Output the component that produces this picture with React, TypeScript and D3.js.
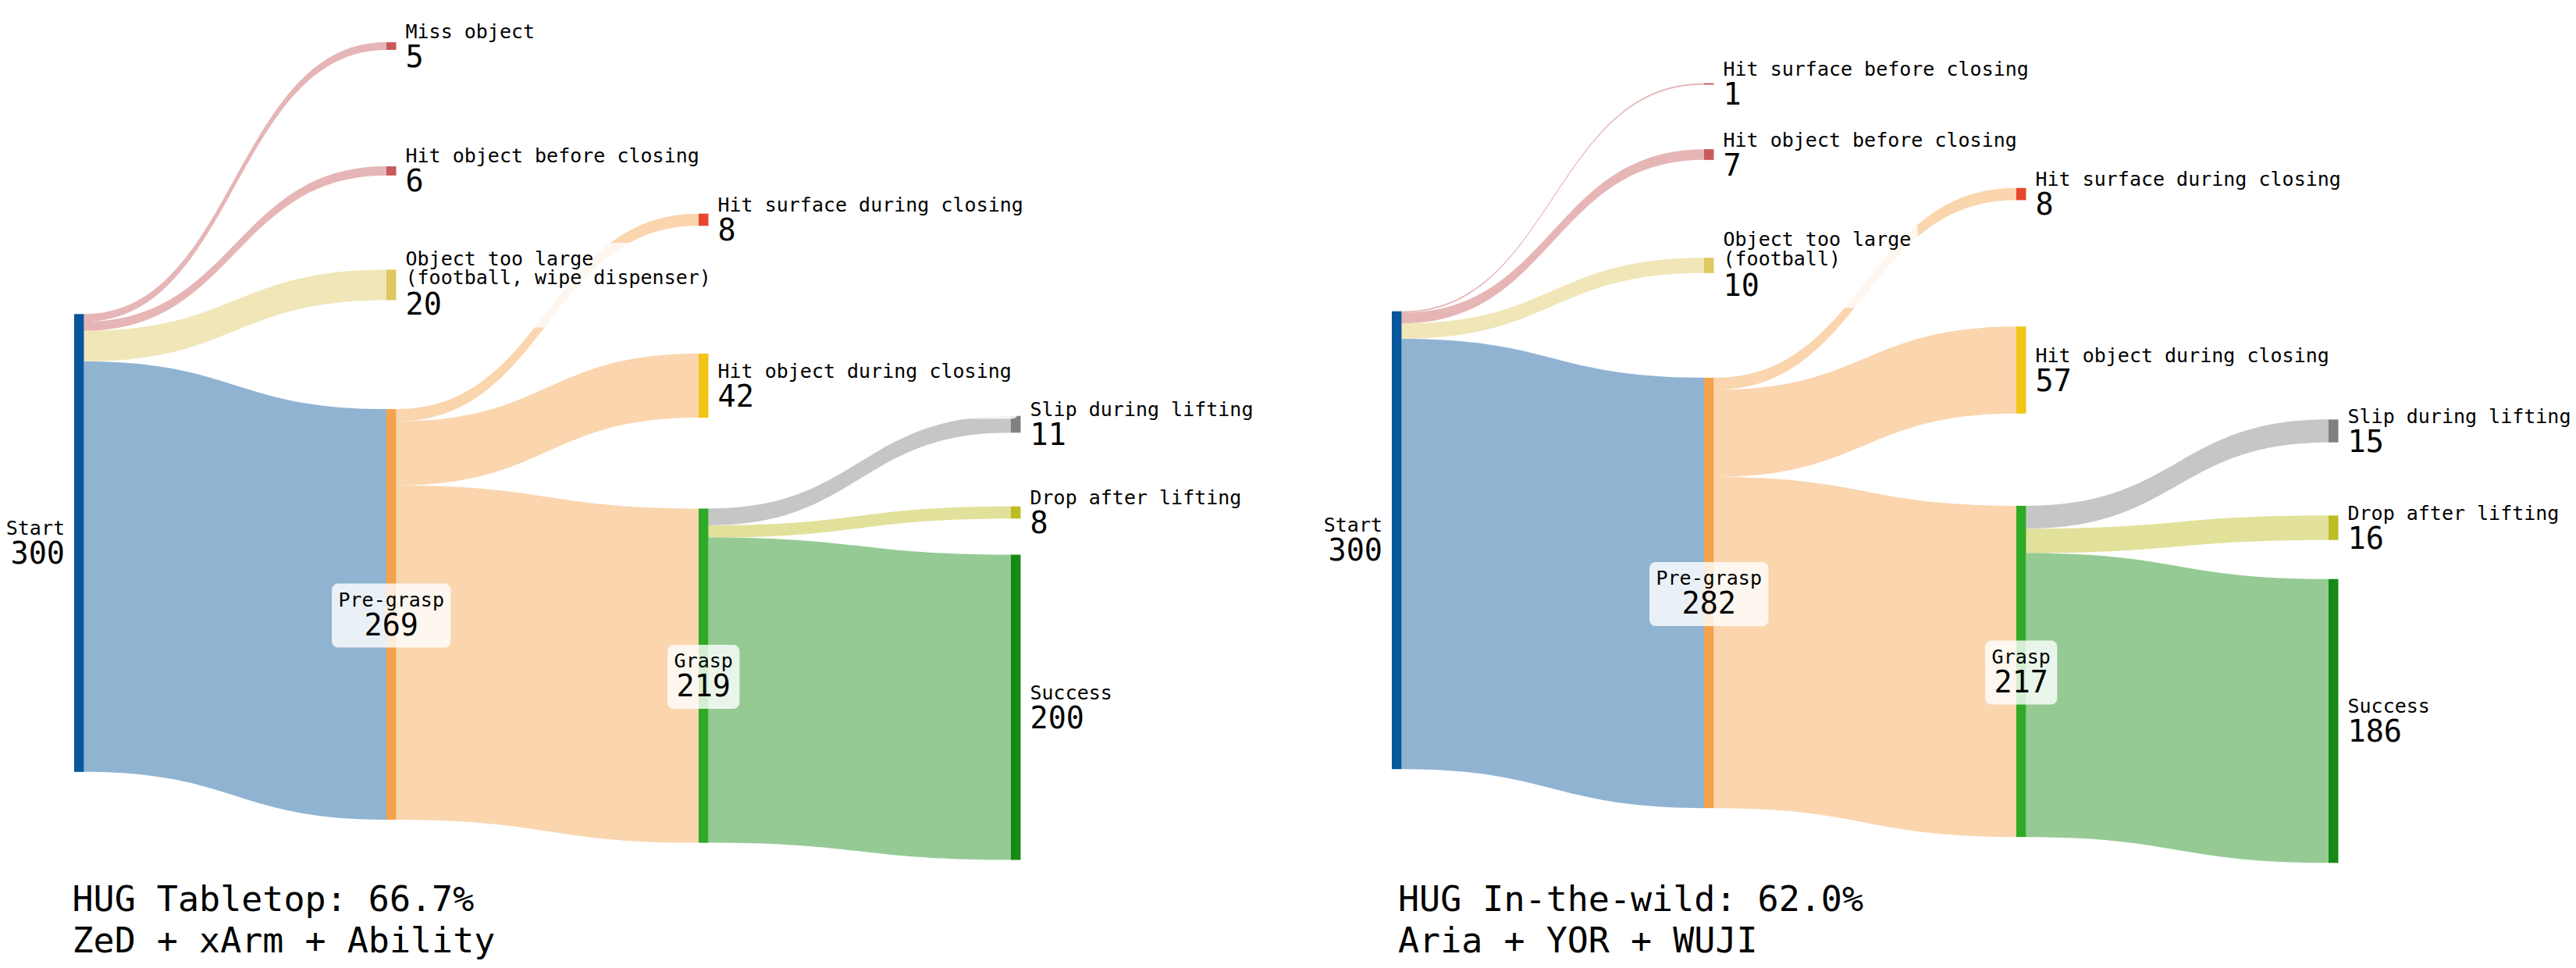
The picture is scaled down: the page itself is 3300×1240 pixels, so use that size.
import React from "react";
import * as d3 from "d3";

const width = 3300;
const height = 1240;
const nodeWidth = 12.5;
const linkOpacity = 0.45;
const font = "'DejaVu Sans Mono', monospace";
const nameSize = 25;
const valueSize = 38.5;
const charW = 0.602; // DejaVu Sans Mono advance per em

// shared structure of both diagrams
const nodeColumn = [0, 1, 1, 1, 1, 2, 2, 2, 3, 3, 3];
const nodeColors = [
  "#08569b", "#c85a5a", "#c85a5a", "#dec862", "#f4a24c",
  "#e6472e", "#f2c416", "#2eaa26", "#808080", "#bcbd22", "#158a15",
];
const labelMode = [
  "left", "right", "right", "right", "center",
  "right", "right", "center", "right", "right", "right",
];
const linkSource = [0, 0, 0, 0, 4, 4, 4, 7, 7, 7];
const linkTarget = [1, 2, 3, 4, 5, 6, 7, 8, 9, 10];
const linkColorNode = [1, 2, 3, 0, 4, 4, 4, 8, 9, 10];

// HUG Tabletop
const tabletopNames = [
  "Start", "Miss object", "Hit object before closing",
  "Object too large\n(football, wipe dispenser)", "Pre-grasp",
  "Hit surface during closing", "Hit object during closing", "Grasp",
  "Slip during lifting", "Drop after lifting", "Success",
];
const tabletopValues = [5, 6, 20, 269, 8, 42, 219, 11, 8, 200];
const tabletopNodeY = [
  0.607, 0.0176, 0.1657, 0.3009, 0.6917, 0.2236, 0.4204, 0.7644, 0.4662, 0.5708, 0.8019,
];
const tabletopTitle = ["HUG Tabletop: 66.7%", "ZeD + xArm + Ability"];

// HUG In-the-wild
const wildNames = [
  "Start", "Hit surface before closing", "Hit object before closing",
  "Object too large\n(football)", "Pre-grasp",
  "Hit surface during closing", "Hit object during closing", "Grasp",
  "Slip during lifting", "Drop after lifting", "Success",
];
const wildValues = [1, 7, 10, 282, 8, 57, 217, 15, 16, 186];
const wildNodeY = [
  0.6037, 0.0625, 0.1463, 0.2778, 0.6662, 0.1931, 0.4019, 0.7593, 0.4741, 0.5889, 0.8181,
];
const wildTitle = ["HUG In-the-wild: 62.0%", "Aria + YOR + WUJI"];

const panels = [
  { names: tabletopNames, values: tabletopValues, nodeY: tabletopNodeY, title: tabletopTitle, x0: 95, titleX: 92.5 },
  { names: wildNames, values: wildValues, nodeY: wildNodeY, title: wildTitle, x0: 1783, titleX: 1791 },
];

const yPos = d3.scaleLinear().domain([0, 1]).range([40, 1120]);
const thick = d3.scaleLinear().domain([0, 300]).range([0, 586.5]);

function bandPath(x0, sy0, sy1, x1, ty0, ty1) {
  const xm = (x0 + x1) / 2;
  const p = d3.path();
  p.moveTo(x0, sy0);
  p.bezierCurveTo(xm, sy0, xm, ty0, x1, ty0);
  p.lineTo(x1, ty1);
  p.bezierCurveTo(xm, ty1, xm, sy1, x0, sy1);
  p.closePath();
  return p.toString();
}

function Sankey({ panel }) {
  const xCol = d3.scaleLinear().domain([0, 3]).range([panel.x0, panel.x0 + 1200]);
  const n = panel.names.length;
  const inSum = new Array(n).fill(0);
  const outSum = new Array(n).fill(0);
  panel.values.forEach((v, i) => {
    outSum[linkSource[i]] += v;
    inSum[linkTarget[i]] += v;
  });
  const nodes = panel.names.map((name, i) => {
    const value = Math.max(inSum[i], outSum[i]);
    const h = thick(value);
    const cy = yPos(panel.nodeY[i]);
    const x = xCol(nodeColumn[i]);
    return { name, value, x, y0: cy - h / 2, y1: cy + h / 2, cy, h };
  });
  const outOff = nodes.map((d) => d.y0);
  const inOff = nodes.map((d) => d.y0);
  const links = panel.values.map((v, i) => {
    const s = nodes[linkSource[i]];
    const t = nodes[linkTarget[i]];
    const h = thick(v);
    const sy0 = outOff[linkSource[i]];
    const ty0 = inOff[linkTarget[i]];
    outOff[linkSource[i]] += h;
    inOff[linkTarget[i]] += h;
    return {
      d: bandPath(s.x + nodeWidth, sy0, sy0 + h, t.x, ty0, ty0 + h),
      color: nodeColors[linkColorNode[i]],
    };
  });

  return (
    <g>
      {links.map((l, i) => (
        <path key={i} d={l.d} fill={l.color} fillOpacity={linkOpacity} />
      ))}
      {nodes.map((d, i) => (
        <rect key={i} x={d.x} y={d.y0} width={nodeWidth} height={Math.max(d.h, 1)} fill={nodeColors[i]} />
      ))}
      {nodes.map((d, i) => {
        const lines = d.name.split("\n");
        const k = lines.length;
        const first = d.cy - 10.5 - (k - 1) * 14.5;
        const valueBase = first + (k - 1) * 24.5 + 37 + (k - 1) * 2;
        const mode = labelMode[i];
        const valueText = String(d.value);
        const textW = Math.max(
          d3.max(lines, (s) => s.length) * nameSize * charW,
          valueText.length * valueSize * charW
        );
        let tx, anchor, bx;
        if (mode === "right") {
          tx = d.x + nodeWidth + 12;
          anchor = "start";
          bx = tx - 8.5;
        } else if (mode === "left") {
          tx = d.x - 12;
          anchor = "end";
          bx = tx - textW - 8.5;
        } else {
          tx = d.x + nodeWidth / 2;
          anchor = "middle";
          bx = tx - textW / 2 - 8.5;
        }
        const by = first - 29;
        return (
          <g key={i} fontFamily={font} fill="#000">
            <rect x={bx} y={by} width={textW + 17} height={valueBase + 16 - by} rx={8} fill="#fff" fillOpacity={0.8} />
            {lines.map((s, j) => (
              <text key={j} x={tx} y={first + j * 24.5} fontSize={nameSize} textAnchor={anchor}>
                {s}
              </text>
            ))}
            <text x={tx} y={valueBase} fontSize={valueSize} textAnchor={anchor}>
              {valueText}
            </text>
          </g>
        );
      })}
      {panel.title.map((t, j) => (
        <text key={j} x={panel.titleX} y={1167 + j * 53} fontFamily={font} fontSize={45} fill="#000">
          {t}
        </text>
      ))}
    </g>
  );
}

const App = () => {
  return (
    <svg
      width={width}
      height={height}
      style={{ position: "absolute", left: 0, top: 0, background: "#fff" }}
    >
      <rect width={width} height={height} fill="#fff" />
      {panels.map((p, i) => (
        <Sankey key={i} panel={p} />
      ))}
    </svg>
  );
};

export default App;
